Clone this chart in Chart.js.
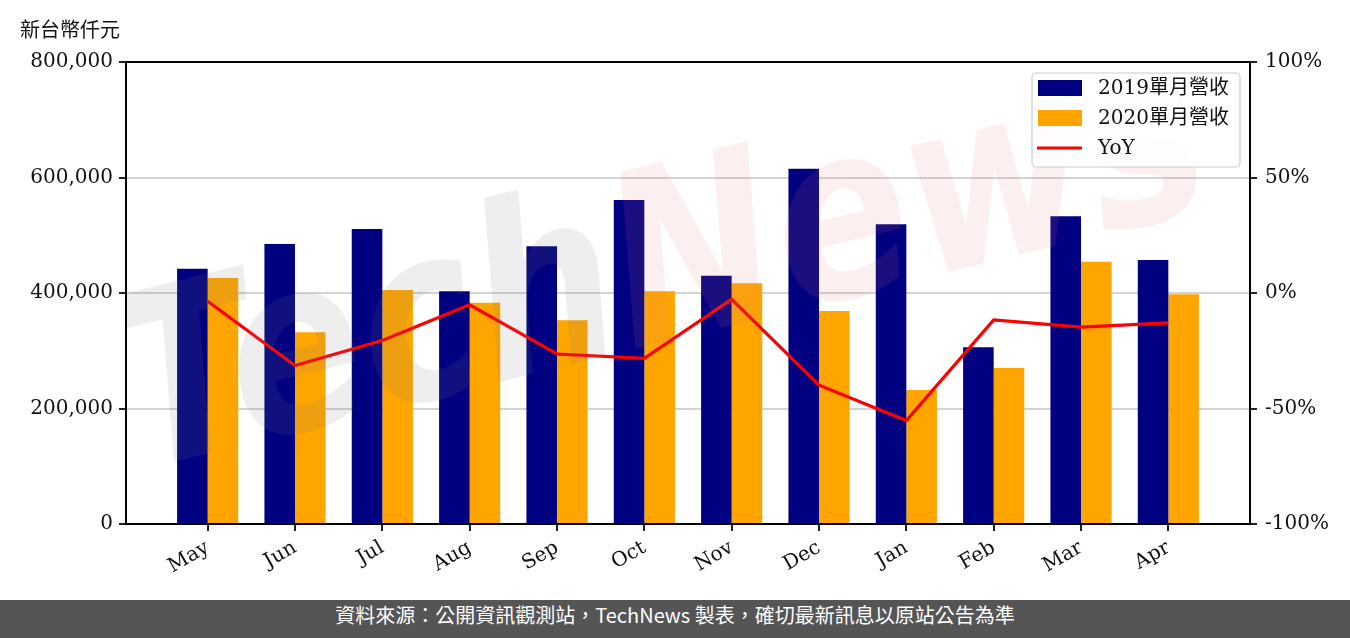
<!DOCTYPE html>
<html>
<head>
<meta charset="utf-8">
<script src="https://cdn.jsdelivr.net/npm/chart.js@4/dist/chart.umd.min.js"></script>
<style>
  body { margin: 0; background: #fff; }
  #wrap { position: relative; width: 1350px; height: 638px; overflow: hidden; }
  #unit { position: absolute; left: 20px; top: 14px; font: 20px "DejaVu Serif", "Noto Sans CJK TC", serif; color: #111; }
  #footer { position: absolute; left: 0; top: 600px; width: 1350px; height: 38px; background: #555555;
            color: #fff; text-align: center; line-height: 38px; font: 20px "Noto Sans CJK TC", sans-serif; }
</style>
</head>
<body>
<div id="wrap">
  <canvas id="myChart" width="1350" height="600"></canvas>
  <div id="unit">新台幣仟元</div>
  <div id="footer">資料來源：公開資訊觀測站，TechNews 製表，確切最新訊息以原站公告為準</div>
</div>
<script>
// monthly revenue (NT$ thousand)
let months = ['May', 'Jun', 'Jul', 'Aug', 'Sep', 'Oct', 'Nov', 'Dec', 'Jan', 'Feb', 'Mar', 'Apr'];
let rev2019 = [442000, 485000, 511000, 403000, 481000, 561000, 430000, 615000, 519000, 306000, 533000, 457000];
let rev2020 = [426000, 332000, 405000, 383000, 353000, 403000, 417000, 369000, 232000, 270000, 454000, 398000];
let yoy = [-3.6, -31.4, -20.6, -5.1, -26.4, -28.3, -2.7, -39.9, -55.2, -11.7, -14.8, -12.9];

let label2019 = '2019單月營收';
let label2020 = '2020單月營收';
let labelYoy = 'YoY';

let axisFont = { family: '"DejaVu Serif", "Noto Sans CJK TC", serif', size: 20 };

// frame + legend + watermark
let framePlugin = {
    id: 'frame',
    afterDatasetsDraw(chart) {
        let ctx = chart.ctx;
        let a = chart.chartArea;
        // watermark
        ctx.save();
        ctx.beginPath();
        ctx.rect(a.left, a.top, a.right - a.left, a.bottom - a.top);
        ctx.clip();
        ctx.translate(140, 470);
        ctx.rotate(-0.24);
        ctx.font = 'italic bold 200px "DejaVu Sans"';
        ctx.textBaseline = 'alphabetic';
        let w1 = ctx.measureText('Tech').width;
        let w2 = ctx.measureText('News').width;
        let s = 1110 / (w1 + w2);
        ctx.scale(s, 1.2);
        ctx.fillStyle = 'rgba(120,120,120,0.13)';
        ctx.fillText('Tech', 0, 0);
        ctx.fillStyle = 'rgba(220,120,120,0.12)';
        ctx.fillText('News', w1, 0);
        ctx.restore();
    },
    afterDraw(chart) {
        let ctx = chart.ctx;
        let a = chart.chartArea;
        ctx.save();
        ctx.strokeStyle = '#000';
        ctx.lineWidth = 2;
        ctx.strokeRect(a.left, a.top, a.right - a.left, a.bottom - a.top);

        // legend box
        let bx = 1032, by = 73, bw = 208, bh = 94;
        ctx.fillStyle = 'rgba(255,255,255,0.8)';
        ctx.strokeStyle = '#cccccc';
        ctx.lineWidth = 1.2;
        ctx.beginPath();
        ctx.roundRect(bx, by, bw, bh, 4);
        ctx.fill();
        ctx.stroke();
        ctx.font = '20px "DejaVu Serif", "Noto Sans CJK TC", serif';
        ctx.textBaseline = 'middle';
        chart.data.datasets.forEach((ds, i) => {
            let cy = 88 + i * 30;
            if (ds.type === 'line') {
                ctx.strokeStyle = ds.borderColor;
                ctx.lineWidth = 3;
                ctx.beginPath();
                ctx.moveTo(1037, cy);
                ctx.lineTo(1082, cy);
                ctx.stroke();
            } else {
                ctx.fillStyle = ds.backgroundColor;
                ctx.fillRect(1038, cy - 8, 44, 16);
            }
            ctx.fillStyle = '#111';
            ctx.fillText(ds.label, 1098, cy + 1);
        });
        ctx.restore();
    }
};

let ctx1 = document.getElementById('myChart').getContext('2d');

let chart1 = new Chart(ctx1, {
    data: {
        datasets: [
            {
                type: 'bar',
                label: label2019,
                data: rev2019.map((v, i) => ({ x: i, y: v })),
                backgroundColor: '#000080',
                yAxisID: 'y',
                categoryPercentage: 0.7,
                barPercentage: 1.0,
                order: 2
            },
            {
                type: 'bar',
                label: label2020,
                data: rev2020.map((v, i) => ({ x: i, y: v })),
                backgroundColor: '#FFA500',
                yAxisID: 'y',
                categoryPercentage: 0.7,
                barPercentage: 1.0,
                order: 2
            },
            {
                type: 'line',
                label: labelYoy,
                data: yoy.map((v, i) => ({ x: i, y: v })),
                borderColor: '#FF0000',
                borderWidth: 3.2,
                pointRadius: 0,
                tension: 0,
                yAxisID: 'y1',
                order: 1
            }
        ]
    },
    options: {
        responsive: false,
        animation: false,
        layout: { padding: { top: 62, left: 0, right: 0, bottom: 0 } },
        plugins: {
            legend: { display: false },
            tooltip: { enabled: false }
        },
        scales: {
            x: {
                type: 'linear',
                offset: false,
                min: -0.935,
                max: 11.935,
                afterBuildTicks: (scale) => {
                    scale.ticks = months.map((m, i) => ({ value: i }));
                },
                afterFit: (scale) => { scale.height = 76; },
                ticks: {
                    autoSkip: false,
                    minRotation: 30,
                    maxRotation: 30,
                    padding: 5,
                    color: '#111',
                    font: axisFont,
                    callback: (v) => months[v]
                },
                grid: { offset: false, drawOnChartArea: false, tickLength: 7, tickColor: '#222', lineWidth: 2 },
                border: { display: false }
            },
            y: {
                position: 'left',
                min: 0,
                max: 800000,
                afterFit: (scale) => { scale.width = 126; },
                ticks: {
                    stepSize: 200000,
                    padding: 6,
                    color: '#111',
                    font: axisFont,
                    callback: (v) => v.toLocaleString('en-US')
                },
                grid: {
                    color: (c) => (c.tick.value === 0 || c.tick.value === 800000) ? 'rgba(0,0,0,0)' : '#d3d3d3',
                    lineWidth: 2,
                    tickLength: 7,
                    tickColor: '#222'
                },
                border: { display: false }
            },
            y1: {
                position: 'right',
                min: -100,
                max: 100,
                afterFit: (scale) => { scale.width = 100; },
                ticks: {
                    stepSize: 50,
                    padding: 8,
                    color: '#111',
                    font: axisFont,
                    callback: (v) => v + '%'
                },
                grid: { drawOnChartArea: false, tickLength: 7, tickColor: '#222', lineWidth: 2 },
                border: { display: false }
            }
        }
    },
    plugins: [framePlugin]
});
</script>
</body>
</html>
